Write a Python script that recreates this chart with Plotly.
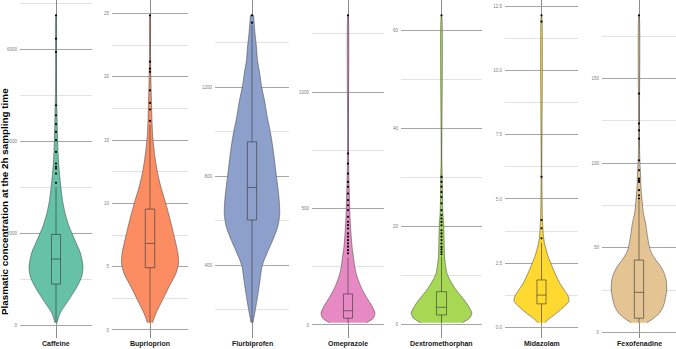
import plotly.graph_objects as go

drugs = ["Caffeine", "Buprioprion", "Flurbiprofen", "Omeprazole",
         "Dextromethorphan", "Midazolam", "Fexofenadine"]
colors = ["#66C2A5", "#FC8D62", "#8DA0CB", "#E78AC3", "#A6D854", "#FFD92F", "#E5C494"]

# violin outlines: concentration levels and relative half-widths
caffeine_level = [52, 254, 543, 833, 1051, 1268, 1558, 1848, 2138, 2428, 2717, 3007, 3297, 3587, 4022, 4529, 5036, 5616, 6739]
caffeine_width = [0.04, 0.15, 0.47, 0.78, 0.95, 1.0, 0.91, 0.70, 0.49, 0.34, 0.24, 0.18, 0.13, 0.09, 0.06, 0.04, 0.02, 0.013, 0.006]
bupri_level = [0.58, 1.32, 2.37, 3.42, 4.47, 5.26, 6.05, 7.10, 8.15, 9.21, 10.26, 11.31, 12.37, 13.42, 14.47, 15.52, 16.57, 18.15, 20.0, 22.1, 24.86]
bupri_width = [0.09, 0.21, 0.44, 0.67, 0.91, 1.0, 0.98, 0.88, 0.77, 0.65, 0.52, 0.38, 0.27, 0.19, 0.13, 0.09, 0.07, 0.05, 0.03, 0.017, 0.006]
flurbi_level = [143, 200, 275, 335, 400, 454, 514, 574, 634, 693, 753, 801, 873, 932, 1000, 1067, 1142, 1200, 1261, 1321, 1381, 1441, 1500, 1523]
flurbi_width = [0.036, 0.12, 0.22, 0.29, 0.37, 0.54, 0.75, 0.93, 1.0, 0.98, 0.93, 0.88, 0.81, 0.75, 0.66, 0.55, 0.45, 0.35, 0.28, 0.20, 0.16, 0.11, 0.07, 0.05]
omep_level = [10, 29, 50, 79, 107, 136, 164, 193, 222, 250, 293, 336, 393, 464, 536, 607, 679, 750, 822, 1329]
omep_width = [0.69, 0.94, 1.0, 0.9, 0.75, 0.6, 0.48, 0.38, 0.3, 0.25, 0.2, 0.15, 0.11, 0.075, 0.056, 0.038, 0.025, 0.019, 0.013, 0.006]
dextro_level = [0.33, 1.22, 2.24, 3.59, 4.95, 6.31, 7.67, 9.03, 10.39, 11.74, 13.78, 15.82, 18.55, 20.6, 22.6, 25.3, 28.1, 30.8, 33.5, 63.1]
dextro_width = [0.69, 0.92, 1.0, 0.9, 0.75, 0.57, 0.41, 0.28, 0.18, 0.14, 0.10, 0.09, 0.08, 0.07, 0.046, 0.034, 0.029, 0.023, 0.011, 0.006]
midaz_level = [0.19, 0.36, 0.56, 0.82, 1.01, 1.20, 1.46, 1.72, 1.98, 2.24, 2.50, 2.76, 3.02, 3.28, 3.53, 3.79, 4.18, 4.70, 5.47, 6.25, 12.14]
midaz_width = [0.12, 0.3, 0.55, 0.83, 1.0, 0.98, 0.83, 0.67, 0.55, 0.44, 0.34, 0.24, 0.17, 0.11, 0.073, 0.055, 0.037, 0.024, 0.018, 0.012, 0.006]
fexo_level = [5.7, 8.3, 11.2, 15.1, 19.1, 25.0, 30.9, 34.8, 38.7, 42.7, 46.6, 50.2, 58.4, 64.3, 70.2, 78.1, 86.0, 91.9, 99.8, 109.6, 117.5, 187.4]
fexo_width = [0.29, 0.53, 0.73, 0.87, 0.94, 1.0, 0.98, 0.91, 0.79, 0.61, 0.46, 0.38, 0.29, 0.24, 0.16, 0.11, 0.07, 0.06, 0.035, 0.018, 0.012, 0.006]

levels = [caffeine_level, bupri_level, flurbi_level, omep_level, dextro_level, midaz_level, fexo_level]
widths = [caffeine_width, bupri_width, flurbi_width, omep_width, dextro_width, midaz_width, fexo_width]

# box statistics
q1 = [891, 4.92, 604, 29, 1.9, 0.92, 8.3]
median = [1435, 6.84, 750, 61, 3.47, 1.26, 23.6]
q3 = [1971, 9.55, 955, 133, 6.65, 1.85, 42.7]
whisker_low = [52, 0.58, 143, 10, 0.33, 0.19, 5.7]
whisker_high = [3000, 16.2, 1480, 290, 13.8, 3.3, 78]

# outliers
caffeine_out = [3094, 3297, 3406, 3442, 3514, 3768, 4022, 4203, 4370, 4565, 4783, 5942, 6232, 6739]
bupri_out = [16.52, 17.42, 17.94, 18.94, 20.4, 20.65, 21.2, 24.86]
flurbi_out = [1490, 1523]
omep_out = [307, 321, 336, 350, 364, 379, 393, 414, 429, 443, 464, 493, 514, 536, 564, 593, 614, 650, 693, 736, 1329]
dextro_out = [14.3, 14.8, 15.3, 15.8, 16.5, 17.2, 17.9, 18.55, 19.2, 20.2, 20.9, 21.6, 22.3, 23.3, 24.7, 26.0, 27.0, 28.1, 29.1, 30.1, 63.1]
midaz_out = [3.47, 3.86, 4.18, 5.86, 11.9, 12.14]
fexo_out = [79.1, 81.0, 84.0, 88.9, 89.9, 90.9, 95.8, 101.7, 114.5, 119.4, 123.4, 141.1, 187.4]
outliers = [caffeine_out, bupri_out, flurbi_out, omep_out, dextro_out, midaz_out, fexo_out]

major_step = [2000, 5, 400, 500, 20, 2.5, 50]
tick_fmt = ["d", "d", "d", "d", "d", ".1f", "d"]

W, H = 676, 349
MT, MB = 0, 11
panel_left = [20, 112, 215, 312, 401, 505, 602]
panel_right = [92, 188, 289, 384, 482, 578, 676]
VIOLIN_HALF = 0.45
BOX_HALF = 0.075

fig = go.Figure()
layout = dict(
    width=W, height=H,
    margin=dict(l=0, r=0, t=MT, b=MB),
    paper_bgcolor="white", plot_bgcolor="white",
    showlegend=False,
    font=dict(family="Liberation Sans, Arial, sans-serif"),
    annotations=[],
)

for i, name in enumerate(drugs):
    n = i + 1
    xa = "x" if n == 1 else f"x{n}"
    ya = "y" if n == 1 else f"y{n}"
    lv, wd = levels[i], widths[i]
    xs = [1 - VIOLIN_HALF * w for w in wd] + [1 + VIOLIN_HALF * w for w in reversed(wd)]
    ys = list(lv) + list(reversed(lv))
    fig.add_trace(go.Scatter(
        x=xs, y=ys, xaxis=xa, yaxis=ya, mode="lines", fill="toself",
        fillcolor=colors[i], line=dict(color="#3a3a3a", width=0.5, shape="spline", smoothing=0.7),
        hoverinfo="skip"))
    # whiskers
    fig.add_trace(go.Scatter(
        x=[1, 1, None, 1, 1], y=[whisker_low[i], q1[i], None, q3[i], whisker_high[i]],
        xaxis=xa, yaxis=ya, mode="lines", line=dict(color="#333333", width=0.6),
        hoverinfo="skip"))
    # box
    bl, br = 1 - BOX_HALF, 1 + BOX_HALF
    fig.add_trace(go.Scatter(
        x=[bl, br, br, bl, bl, None, bl, br],
        y=[q1[i], q1[i], q3[i], q3[i], q1[i], None, median[i], median[i]],
        xaxis=xa, yaxis=ya, mode="lines", line=dict(color="#333333", width=0.6),
        hoverinfo="skip"))
    fig.add_trace(go.Scatter(
        x=[1] * len(outliers[i]), y=outliers[i], xaxis=xa, yaxis=ya,
        mode="markers", marker=dict(color="black", size=2.2), hoverinfo="skip"))

    lo, hi = min(lv), max(lv)
    span = hi - lo
    yr = [lo - 0.05 * span, hi + 0.05 * span]
    d0 = panel_left[i] / W
    d1 = min(panel_right[i] / W, 1.0)
    layout["xaxis" if n == 1 else f"xaxis{n}"] = dict(
        domain=[d0, d1], range=[0.4, 1.6], anchor=ya,
        tickvals=[1], showticklabels=False, ticks="",
        showgrid=True, gridcolor="#8c8c8c", gridwidth=0.7,
        zeroline=False, showline=False, automargin=False, fixedrange=True)
    layout["yaxis" if n == 1 else f"yaxis{n}"] = dict(
        domain=[0, 1], range=yr, anchor=xa,
        tick0=0, dtick=major_step[i], tickformat=tick_fmt[i],
        ticks="", ticklabelstandoff=2,
        tickfont=dict(size=4.5, color="#808080"),
        showgrid=True, gridcolor="#a6a6a6", gridwidth=0.8,
        minor=dict(dtick=major_step[i] / 2, showgrid=True, gridcolor="#e2e2e2", gridwidth=0.8),
        zeroline=False, showline=False, automargin=False, fixedrange=True)
    layout["annotations"].append(dict(
        text=name, xref="paper", yref="paper",
        x=(panel_left[i] + panel_right[i]) / 2 / W, y=0,
        xanchor="center", yanchor="top", yshift=-1,
        borderpad=0, showarrow=False, font=dict(size=7, color="#1a1a1a", weight="bold")))

plot_h = H - MT - MB
layout["annotations"].append(dict(
    text="Plasmatic concentration at the 2h sampling time",
    xref="paper", yref="paper", x=5 / W, y=(plot_h - 202) / plot_h,
    xanchor="center", yanchor="middle", textangle=-90, showarrow=False,
    font=dict(size=9.9, color="black", weight="bold")))

fig.update_layout(**layout)
fig.write_html("out.html", config={"displayModeBar": False},
               post_script="document.body.style.margin='0';document.body.style.padding='0';")
